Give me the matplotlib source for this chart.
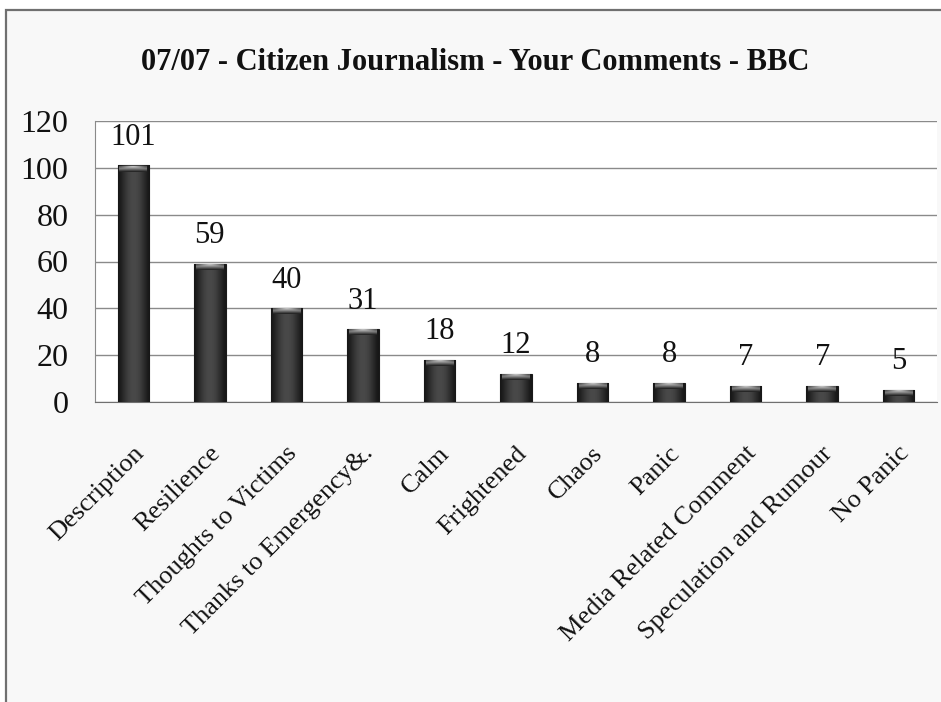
import numpy as np
import matplotlib
matplotlib.use("Agg")
import matplotlib.pyplot as plt
from matplotlib.patches import Rectangle
import matplotlib.transforms as mtransforms

# ---- data ----
categories = ["Description", "Resilience", "Thoughts to Victims", "Thanks to Emergency&.",
              "Calm", "Frightened", "Chaos", "Panic", "Media Related Comment",
              "Speculation and Rumour", "No Panic"]
values = [101, 59, 40, 31, 18, 12, 8, 8, 7, 7, 5]
y_ticks = [0, 20, 40, 60, 80, 100, 120]
title = "07/07 - Citizen Journalism - Your Comments - BBC"

serif = ["Liberation Serif", "DejaVu Serif"]

fig = plt.figure(figsize=(9.41, 7.02), dpi=100, facecolor="white")
# outer frame
fig.patches.append(Rectangle((6 / 941, -0.05), 1.1, 1 - 10 / 702 + 0.05,
                             transform=fig.transFigure, facecolor="#f8f8f8",
                             edgecolor="#707070", lw=1.6, zorder=-5))

ax = fig.add_axes([95 / 941, 1 - 402 / 702, 842 / 941, 281 / 702])
ax.set_zorder(2)
ax.set_facecolor("white")

x = np.arange(len(categories))
bars = ax.bar(x, values, width=0.41, color="#363636", edgecolor="#1a1a1a",
              linewidth=0.8, zorder=3)

# cylinder-like shading
hgrad = np.array([[0.09, 0.15, 0.20, 0.25, 0.28, 0.29, 0.28, 0.25, 0.20, 0.15, 0.09]])
vgrad = np.linspace(0.12, 0.80, 8)[:, None] * np.ones((1, 11))
vgrad = np.minimum(vgrad, 0.8 - 0.5 * np.abs(np.linspace(-1, 1, 11))[None, :] * np.linspace(0, 1, 8)[:, None])
cap = 2.6
for b in bars:
    x0, w, h = b.get_x(), b.get_width(), b.get_height()
    im = ax.imshow(hgrad, extent=[x0, x0 + w, 0, h], aspect="auto", cmap="gray",
                   vmin=0, vmax=1, zorder=4, interpolation="bicubic")
    im.set_clip_path(b)
    im2 = ax.imshow(vgrad, extent=[x0 + w * 0.06, x0 + w * 0.94, h - min(cap, h * 0.7), h - 0.4],
                    origin="lower", aspect="auto", cmap="gray", vmin=0, vmax=1,
                    zorder=5, interpolation="bicubic")
    im2.set_clip_path(b)
    ax.annotate(str(int(h)), (b.get_x() + w / 2, h), xytext=(0, 15),
                textcoords="offset points", ha="center", va="baseline",
                fontsize=22, family=serif, color="#111111")

ax.set_xlim(-0.5, len(categories) - 0.5)
ax.set_ylim(0, 120)
ax.set_yticks(y_ticks)
ax.set_yticklabels([str(t) for t in y_ticks], family=serif, fontsize=23, color="#111111")
ax.tick_params(axis="y", length=0, pad=19)
ax.tick_params(axis="x", length=0, pad=0)

ax.set_xticks(x)
ax.set_xticklabels(categories, rotation=45, ha="right", va="center",
                   rotation_mode="anchor", family=serif, fontsize=19, color="#111111")
offset = mtransforms.ScaledTranslation(7 / 100, -48 / 100, fig.dpi_scale_trans)
for lab in ax.get_xticklabels():
    lab.set_transform(lab.get_transform() + offset)

ax.yaxis.grid(True, color="#8a8a8a", lw=1.0, zorder=1)
ax.set_axisbelow(True)
for s in ["right", "top"]:
    ax.spines[s].set_visible(False)
ax.spines["left"].set_color("#8a8a8a")
ax.spines["bottom"].set_color("#707070")

fig.text(475 / 941, 1 - 62 / 702, title, ha="center", va="center",
         fontsize=22, fontweight="bold", family=serif, color="#111111")

fig.savefig("out.png", dpi=100, facecolor=fig.get_facecolor())
